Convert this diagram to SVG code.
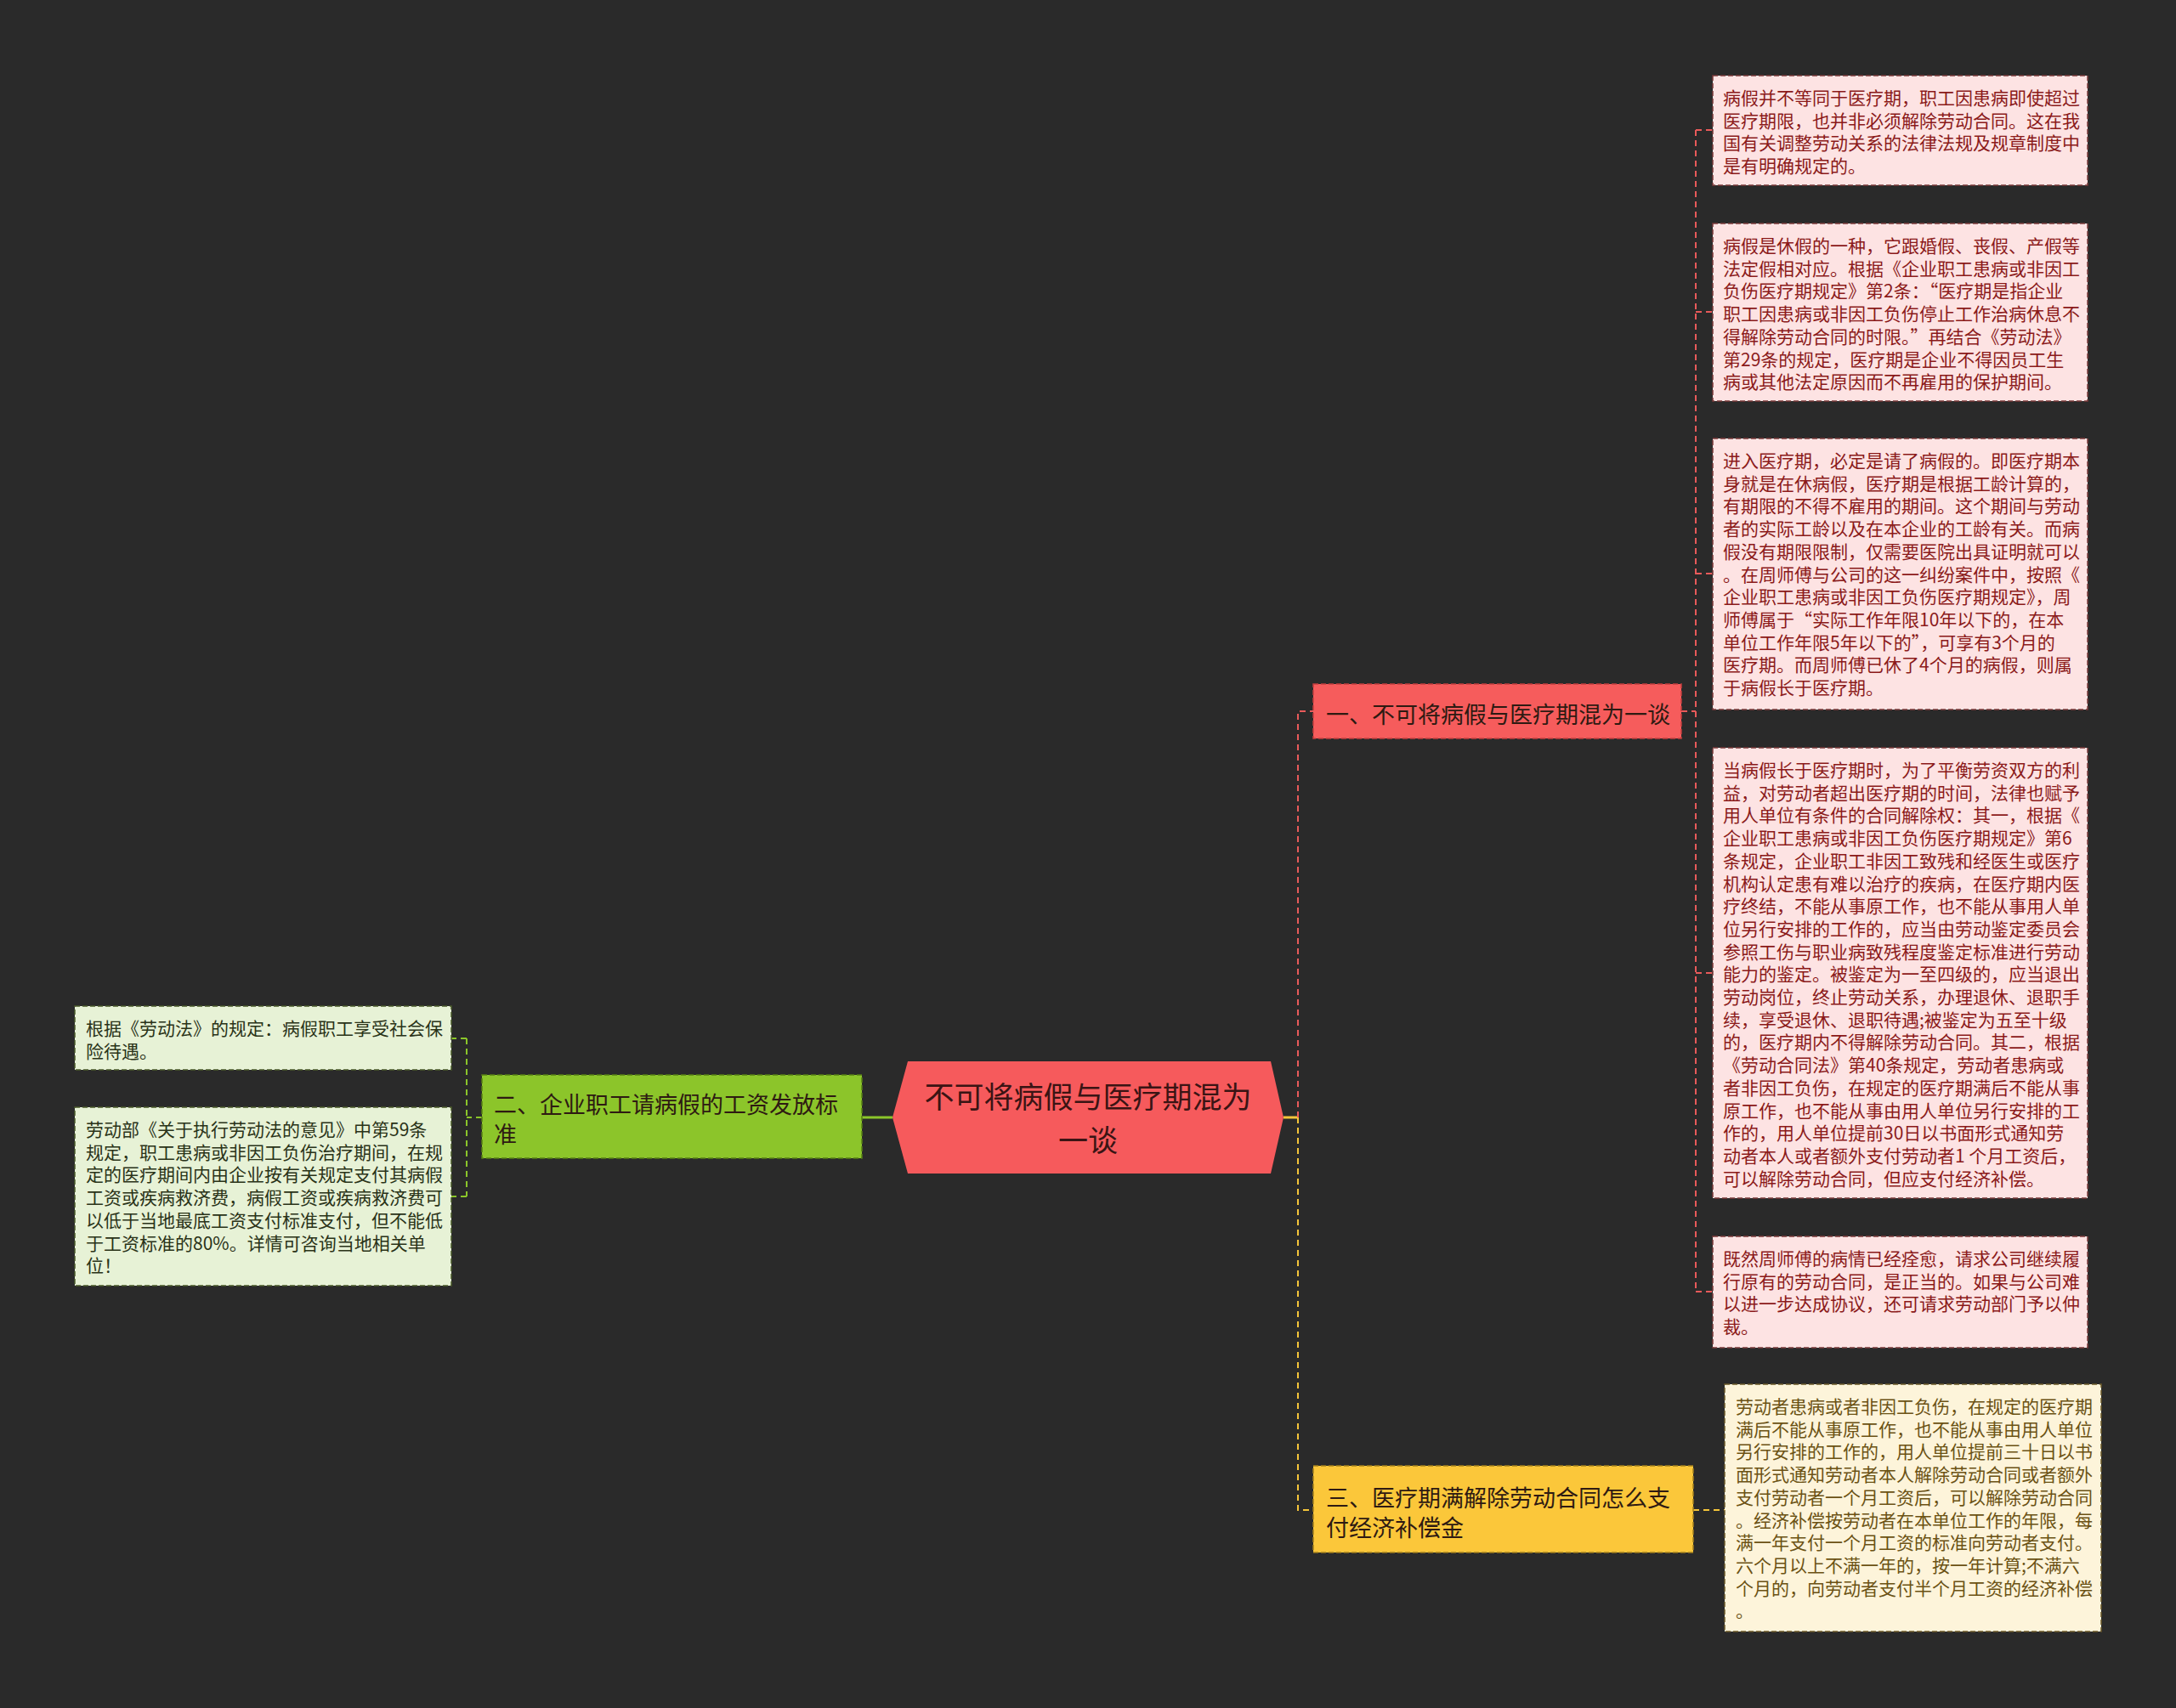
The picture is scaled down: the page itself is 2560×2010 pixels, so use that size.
<svg xmlns="http://www.w3.org/2000/svg" width="2560" height="2010" viewBox="0 0 2560 2010">
<style>
text{font-family:"Noto Sans CJK SC","Noto Sans",sans-serif}
.leafR{fill:#fde3e3;stroke:#7a3a3a;stroke-width:1.5;stroke-dasharray:6 3}
.leafG{fill:#e7f2d6;stroke:#4a5a2a;stroke-width:1.5;stroke-dasharray:6 3}
.leafY{fill:#fdf4da;stroke:#6b5a2a;stroke-width:1.5;stroke-dasharray:6 3}
.tR{fill:#8b1a1a;font-size:21px}
.tG{fill:#2a3318;font-size:21px}
.tY{fill:#6b5214;font-size:21px}
.b1{fill:#f65c5c;stroke:#c43e3e;stroke-width:1.5;stroke-dasharray:6 3}
.b2{fill:#8cc52a;stroke:#557f14;stroke-width:1.5;stroke-dasharray:6 3}
.b3{fill:#fbc73a;stroke:#a4801c;stroke-width:1.5;stroke-dasharray:6 3}
.tb{fill:#2e1a12;font-size:27px}
.cR{fill:none;stroke:#e85a5a;stroke-width:2;stroke-dasharray:7 5}
.cY{fill:none;stroke:#f5c53a;stroke-width:2;stroke-dasharray:7 5}
.cG{fill:none;stroke:#8bc62a;stroke-width:2;stroke-dasharray:7 5}
</style>
<rect width="2560" height="2010" fill="#2a2a2a"/>
<g id="connectors">
<path d="M1050,1315 H1014" fill="none" stroke="#8bc62a" stroke-width="3"/>
<path class="cG" d="M567,1315 H549 M549,1222 V1408 M549,1222 H531 M549,1408 H531"/>
<path d="M1510,1315 H1527" fill="none" stroke="#f5c53a" stroke-width="3"/>
<path class="cR" d="M1527,1315 V837 H1545"/>
<path class="cY" d="M1527,1315 V1777 H1545"/>
<path class="cR" d="M1978,837 H1995 M1995,153 V1520 M1995,153 H2015 M1995,367 H2015 M1995,675 H2015 M1995,1145 H2015 M1995,1520 H2015"/>
<path class="cY" d="M1992,1777 H2029"/>
</g>
<g id="center">
<polygon points="1050,1315 1068,1249 1495,1249 1510,1315 1495,1381 1068,1381" fill="#f65a5c"/>
<text x="1280" y="1304" text-anchor="middle" font-size="35" fill="#3a1414"><tspan x="1280">不可将病假与医疗期混为</tspan><tspan x="1280" dy="51">一谈</tspan></text>
</g>
<g id="branch1">
<rect class="b1" x="1545" y="805" width="433" height="64"/>
<text class="tb" x="1560" y="851">一、不可将病假与医疗期混为一谈</text>
</g>
<g id="branch2">
<rect class="b2" x="567" y="1265" width="447" height="98"/>
<text class="tb" x="581" y="1310"><tspan x="581">二、企业职工请病假的工资发放标</tspan><tspan x="581" dy="35">准</tspan></text>
</g>
<g id="branch3">
<rect class="b3" x="1545" y="1725" width="447" height="102"/>
<text class="tb" x="1560" y="1773"><tspan x="1560">三、医疗期满解除劳动合同怎么支</tspan><tspan x="1560" dy="35">付经济补偿金</tspan></text>
</g>
<g id="leaf1">
<rect class="leafR" x="2015" y="89" width="441" height="129"/>
<text class="tR" x="2027" y="123"><tspan x="2027">病假并不等同于医疗期，职工因患病即使超过</tspan><tspan x="2027" dy="26.7">医疗期限，也并非必须解除劳动合同。这在我</tspan><tspan x="2027" dy="26.7">国有关调整劳动关系的法律法规及规章制度中</tspan><tspan x="2027" dy="26.7">是有明确规定的。</tspan></text>
</g>
<g id="leaf2">
<rect class="leafR" x="2015" y="263" width="441" height="209"/>
<text class="tR" x="2027" y="297"><tspan x="2027">病假是休假的一种，它跟婚假、丧假、产假等</tspan><tspan x="2027" dy="26.7">法定假相对应。根据《企业职工患病或非因工</tspan><tspan x="2027" dy="26.7">负伤医疗期规定》第2条：“医疗期是指企业</tspan><tspan x="2027" dy="26.7">职工因患病或非因工负伤停止工作治病休息不</tspan><tspan x="2027" dy="26.7">得解除劳动合同的时限。”再结合《劳动法》</tspan><tspan x="2027" dy="26.7">第29条的规定，医疗期是企业不得因员工生</tspan><tspan x="2027" dy="26.7">病或其他法定原因而不再雇用的保护期间。</tspan></text>
</g>
<g id="leaf3">
<rect class="leafR" x="2015" y="516" width="441" height="319"/>
<text class="tR" x="2027" y="550"><tspan x="2027">进入医疗期，必定是请了病假的。即医疗期本</tspan><tspan x="2027" dy="26.7">身就是在休病假，医疗期是根据工龄计算的，</tspan><tspan x="2027" dy="26.7">有期限的不得不雇用的期间。这个期间与劳动</tspan><tspan x="2027" dy="26.7">者的实际工龄以及在本企业的工龄有关。而病</tspan><tspan x="2027" dy="26.7">假没有期限限制，仅需要医院出具证明就可以</tspan><tspan x="2027" dy="26.7">。在周师傅与公司的这一纠纷案件中，按照《</tspan><tspan x="2027" dy="26.7">企业职工患病或非因工负伤医疗期规定》，周</tspan><tspan x="2027" dy="26.7">师傅属于“实际工作年限10年以下的，在本</tspan><tspan x="2027" dy="26.7">单位工作年限5年以下的”，可享有3个月的</tspan><tspan x="2027" dy="26.7">医疗期。而周师傅已休了4个月的病假，则属</tspan><tspan x="2027" dy="26.7">于病假长于医疗期。</tspan></text>
</g>
<g id="leaf4">
<rect class="leafR" x="2015" y="880" width="441" height="530"/>
<text class="tR" x="2027" y="914"><tspan x="2027">当病假长于医疗期时，为了平衡劳资双方的利</tspan><tspan x="2027" dy="26.7">益，对劳动者超出医疗期的时间，法律也赋予</tspan><tspan x="2027" dy="26.7">用人单位有条件的合同解除权：其一，根据《</tspan><tspan x="2027" dy="26.7">企业职工患病或非因工负伤医疗期规定》第6</tspan><tspan x="2027" dy="26.7">条规定，企业职工非因工致残和经医生或医疗</tspan><tspan x="2027" dy="26.7">机构认定患有难以治疗的疾病，在医疗期内医</tspan><tspan x="2027" dy="26.7">疗终结，不能从事原工作，也不能从事用人单</tspan><tspan x="2027" dy="26.7">位另行安排的工作的，应当由劳动鉴定委员会</tspan><tspan x="2027" dy="26.7">参照工伤与职业病致残程度鉴定标准进行劳动</tspan><tspan x="2027" dy="26.7">能力的鉴定。被鉴定为一至四级的，应当退出</tspan><tspan x="2027" dy="26.7">劳动岗位，终止劳动关系，办理退休、退职手</tspan><tspan x="2027" dy="26.7">续，享受退休、退职待遇;被鉴定为五至十级</tspan><tspan x="2027" dy="26.7">的，医疗期内不得解除劳动合同。其二，根据</tspan><tspan x="2027" dy="26.7">《劳动合同法》第40条规定，劳动者患病或</tspan><tspan x="2027" dy="26.7">者非因工负伤，在规定的医疗期满后不能从事</tspan><tspan x="2027" dy="26.7">原工作，也不能从事由用人单位另行安排的工</tspan><tspan x="2027" dy="26.7">作的，用人单位提前30日以书面形式通知劳</tspan><tspan x="2027" dy="26.7">动者本人或者额外支付劳动者1 个月工资后，</tspan><tspan x="2027" dy="26.7">可以解除劳动合同，但应支付经济补偿。</tspan></text>
</g>
<g id="leaf5">
<rect class="leafR" x="2015" y="1455" width="441" height="131"/>
<text class="tR" x="2027" y="1489"><tspan x="2027">既然周师傅的病情已经痊愈，请求公司继续履</tspan><tspan x="2027" dy="26.7">行原有的劳动合同，是正当的。如果与公司难</tspan><tspan x="2027" dy="26.7">以进一步达成协议，还可请求劳动部门予以仲</tspan><tspan x="2027" dy="26.7">裁。</tspan></text>
</g>
<g id="leaf6">
<rect class="leafY" x="2029" y="1629" width="443" height="291"/>
<text class="tY" x="2042" y="1663"><tspan x="2042">劳动者患病或者非因工负伤，在规定的医疗期</tspan><tspan x="2042" dy="26.7">满后不能从事原工作，也不能从事由用人单位</tspan><tspan x="2042" dy="26.7">另行安排的工作的，用人单位提前三十日以书</tspan><tspan x="2042" dy="26.7">面形式通知劳动者本人解除劳动合同或者额外</tspan><tspan x="2042" dy="26.7">支付劳动者一个月工资后，可以解除劳动合同</tspan><tspan x="2042" dy="26.7">。经济补偿按劳动者在本单位工作的年限，每</tspan><tspan x="2042" dy="26.7">满一年支付一个月工资的标准向劳动者支付。</tspan><tspan x="2042" dy="26.7">六个月以上不满一年的，按一年计算;不满六</tspan><tspan x="2042" dy="26.7">个月的，向劳动者支付半个月工资的经济补偿</tspan><tspan x="2042" dy="26.7">。</tspan></text>
</g>
<g id="leafL1">
<rect class="leafG" x="88" y="1184" width="443" height="75"/>
<text class="tG" x="101" y="1218"><tspan x="101">根据《劳动法》的规定：病假职工享受社会保</tspan><tspan x="101" dy="26.7">险待遇。</tspan></text>
</g>
<g id="leafL2">
<rect class="leafG" x="88" y="1303" width="443" height="210"/>
<text class="tG" x="101" y="1337"><tspan x="101">劳动部《关于执行劳动法的意见》中第59条</tspan><tspan x="101" dy="26.7">规定，职工患病或非因工负伤治疗期间，在规</tspan><tspan x="101" dy="26.7">定的医疗期间内由企业按有关规定支付其病假</tspan><tspan x="101" dy="26.7">工资或疾病救济费，病假工资或疾病救济费可</tspan><tspan x="101" dy="26.7">以低于当地最底工资支付标准支付，但不能低</tspan><tspan x="101" dy="26.7">于工资标准的80%。详情可咨询当地相关单</tspan><tspan x="101" dy="26.7">位！</tspan></text>
</g>
</svg>
